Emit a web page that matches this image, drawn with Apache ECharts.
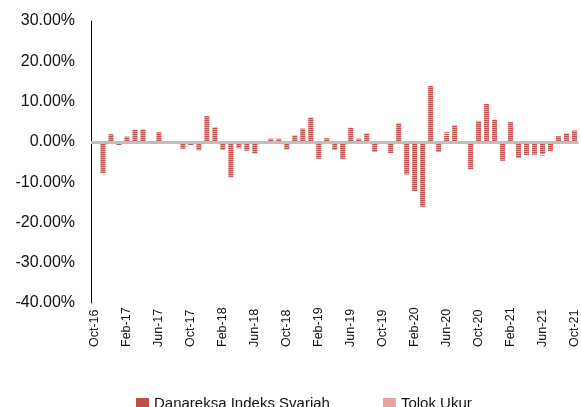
<!DOCTYPE html>
<html>
<head>
<meta charset="utf-8">
<script src="https://cdn.jsdelivr.net/npm/echarts@6/dist/echarts.min.js"></script>
<style>
html,body{margin:0;padding:0;background:#fff;}
#chart{width:581px;height:407px;}
</style>
</head>
<body>
<div id="chart"></div>
<script>
var categories = ['Oct-16','Nov-16','Dec-16','Jan-17','Feb-17','Mar-17','Apr-17','May-17','Jun-17','Jul-17','Aug-17','Sep-17',
'Oct-17','Nov-17','Dec-17','Jan-18','Feb-18','Mar-18','Apr-18','May-18','Jun-18','Jul-18','Aug-18','Sep-18',
'Oct-18','Nov-18','Dec-18','Jan-19','Feb-19','Mar-19','Apr-19','May-19','Jun-19','Jul-19','Aug-19','Sep-19',
'Oct-19','Nov-19','Dec-19','Jan-20','Feb-20','Mar-20','Apr-20','May-20','Jun-20','Jul-20','Aug-20','Sep-20',
'Oct-20','Nov-20','Dec-20','Jan-21','Feb-21','Mar-21','Apr-21','May-21','Jun-21','Jul-21','Aug-21','Sep-21','Oct-21'];

var danareksa = [null,-7.8,1.9,-0.8,1.3,3.1,3.0,-0.2,2.4,-0.1,-0.4,-1.7,
-0.8,-2.1,6.4,3.7,-1.9,-8.7,-1.6,-2.2,-3.0,0.1,0.8,0.8,
-2.0,1.7,3.3,6.1,-4.2,0.9,-1.9,-4.2,3.6,0.8,2.0,-2.4,
0.1,-2.8,4.7,-8.1,-12.2,-16.1,13.9,-2.5,2.4,4.2,0.1,-6.9,
5.2,9.5,5.6,-4.7,4.9,-4.0,-3.4,-3.2,-3.0,-2.4,1.4,2.2,2.8];

var tolokUkur = [null,-7.6,1.8,-0.6,1.2,3.0,3.1,-0.1,2.3,-0.2,-0.5,-1.6,
-0.7,-2.0,6.3,3.6,-2.0,-8.8,-1.5,-2.3,-2.9,0.2,0.7,0.9,
-1.9,1.6,3.2,6.0,-4.1,0.8,-2.0,-4.3,3.5,0.7,2.1,-2.5,
0.0,-2.7,4.6,-8.0,-12.1,-16.0,13.8,-2.6,1.1,4.1,0.2,-6.8,
5.1,9.4,5.5,-4.6,4.8,-4.1,-3.3,-3.1,-3.8,-2.3,1.3,2.1,2.7];

var yTicks = [-40, 30, 10];

function makePattern(color, row) {
  var c = document.createElement('canvas');
  c.width = 2; c.height = 2;
  var ctx = c.getContext('2d');
  ctx.fillStyle = color;
  ctx.fillRect(0, row, 2, 1);
  return c;
}

var chart = echarts.init(document.getElementById('chart'), null, {renderer: 'canvas'});
var option = {
  animation: false,
  backgroundColor: '#ffffff',
  grid: {left: 91, right: 1, top: 21, bottom: 104, containLabel: false},
  legend: {
    left: 131, top: 391,
    itemWidth: 13, itemHeight: 11, itemGap: 53,
    icon: 'rect',
    textStyle: {fontFamily: 'Liberation Sans', fontSize: 15, color: '#111'},
    data: [
      {name: 'Danareksa Indeks Svariah', itemStyle: {color: '#C0504D'}},
      {name: 'Tolok Ukur', itemStyle: {color: '#E6A4A4'}}
    ]
  },
  xAxis: {
    type: 'category',
    data: categories,
    boundaryGap: true,
    axisLine: {show: false},
    axisTick: {show: false},
    axisLabel: {
      interval: 3, rotate: 90, align: 'left', margin: 44,
      fontFamily: 'Liberation Sans', fontSize: 12.5, color: '#111'
    }
  },
  yAxis: {
    type: 'value',
    min: yTicks[0], max: yTicks[1], interval: yTicks[2],
    splitLine: {show: false},
    axisTick: {show: false},
    axisLine: {show: true, lineStyle: {color: '#000', width: 1}},
    axisLabel: {
      margin: 16,
      fontFamily: 'Liberation Sans', fontSize: 16, color: '#111',
      formatter: function (v) { return v.toFixed(2) + '%'; }
    }
  },
  series: [
    {
      name: 'Danareksa Indeks Svariah',
      type: 'bar',
      data: danareksa,
      barWidth: 5,
      barGap: '-100%',
      itemStyle: {color: {image: makePattern('#C0504D', 0), repeat: 'repeat'}}
    },
    {
      name: 'Tolok Ukur',
      type: 'bar',
      data: tolokUkur,
      barWidth: 5,
      barGap: '-100%',
      itemStyle: {color: {image: makePattern('#E59B9B', 1), repeat: 'repeat'}},
      markLine: {
        silent: true,
        symbol: 'none',
        z: 10,
        label: {show: false},
        lineStyle: {color: '#BFBFBF', width: 3, type: 'solid'},
        data: [{yAxis: 0}]
      }
    }
  ]
};
chart.setOption(option);
</script>
</body>
</html>
